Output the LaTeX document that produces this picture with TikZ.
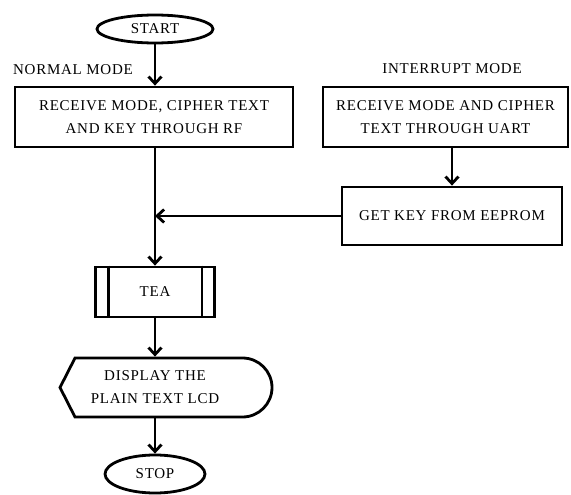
\documentclass[tikz,border=0pt]{standalone}
\usepackage{fontspec}
\setmainfont{Liberation Serif}[LetterSpace=5]
\usetikzlibrary{shapes.geometric,arrows.meta}

\begin{document}
\begin{tikzpicture}[x=1pt,y=1pt,font=\fontsize{15}{23}\selectfont,line width=2.8pt,box/.style={draw=black, align=center, inner sep=0pt},term/.style={box, ellipse},label/.style={align=center, inner sep=0pt},arr/.style={-{Straight Barb[length=7pt,width=13pt,line width=2.8pt]}}]
\useasboundingbox (0,0) rectangle (571,-495);
\node[term, minimum width=116, minimum height=28] (start) at (155,-29) {START};
\node[label] (normal) at (73,-70) {NORMAL MODE};\node[label] (interrupt) at (452,-69) {INTERRUPT MODE};
\node[box, minimum width=278, minimum height=60] (rf) at (154,-117) {RECEIVE MODE, CIPHER TEXT\\AND KEY THROUGH RF};
\node[box, minimum width=245, minimum height=60] (uart) at (445.5,-117) {RECEIVE MODE AND CIPHER\\TEXT THROUGH UART};
\node[box, minimum width=220, minimum height=58] (eeprom) at (452,-216) {GET KEY FROM EEPROM};
\node[box, minimum width=119, minimum height=50] (tea) at (155,-292) {TEA};
\draw ([xshift=14]tea.north west) -- ([xshift=14]tea.south west) ([xshift=-14]tea.north east) -- ([xshift=-14]tea.south east);
\node[label, minimum height=59] (disp) at (155,-387.5) {DISPLAY THE\\PLAIN TEXT LCD};
\draw[shift={(disp.center)}] (-95,0) -- (-80,29.5) -- (87.5,29.5) arc[start angle=90, end angle=-90, radius=29.5] -- (-80,-29.5) -- cycle;
\node[term, minimum width=100, minimum height=38] (stop) at (155,-474) {STOP};
\draw[arr] (start) -- (start|-rf.north);
\draw[arr] (start|-rf.south) -- (tea);
\draw[arr] (eeprom.north|-uart.south) -- (eeprom);
\draw[arr] (eeprom.west) -- (eeprom.west-|tea.north);
\draw[arr] (tea) -- (disp);
\draw[arr] (disp) -- (stop);
\end{tikzpicture}
\end{document}
